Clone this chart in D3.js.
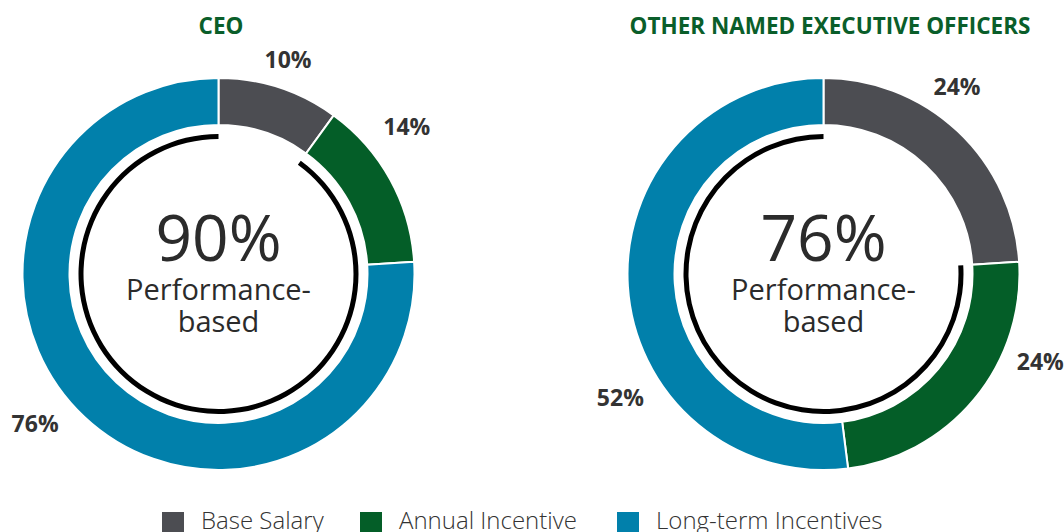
<!DOCTYPE html>
<html>
<head>
<meta charset="utf-8">
<script src="https://cdn.jsdelivr.net/npm/d3@7"></script>
<style>
  body { margin: 0; background: #fff; }
  text { font-family: "Open Sans", sans-serif; }
</style>
</head>
<body>
<svg id="chart" width="1064" height="532"></svg>
<script>
    // data
    var categories = ["Base Salary", "Annual Incentive", "Long-term Incentives"];
    var ceoValues = [10, 14, 76];
    var neoValues = [24, 24, 52];
    var titles = ["CEO", "OTHER NAMED EXECUTIVE OFFICERS"];
    var performanceBased = [90, 76];
    var centerWords = ["Performance-", "based"];

    var colors = d3.scaleOrdinal().domain(categories).range(["#4c4d52", "#045e28", "#0180ab"]);

    var svg = d3.select("#chart");

    // layout of each donut (label angle in degrees, radius for the label)
    var charts = [
        {values: ceoValues, title: titles[0], perf: performanceBased[0], cx: 218.5, cy: 274, tx: 221,
         labels: [[18, 225], [52, 239], [230.7, 237]]},
        {values: neoValues, title: titles[1], perf: performanceBased[1], cx: 823.5, cy: 274, tx: 830,
         labels: [[35.5, 230], [112.1, 234], [238.6, 238]]}
    ];

    var pie = d3.pie().sort(null).value(function (d) { return d.value; });
    var arc = d3.arc().innerRadius(149).outerRadius(196);
    var perfArc = d3.arc().innerRadius(135).outerRadius(140);

    charts.forEach(function (c) {
        var data = c.values.map(function (v, i) { return {key: categories[i], value: v}; });
        var arcs = pie(data);

        var g = svg.append("g").attr("transform", "translate(" + c.cx + "," + c.cy + ")");

        g.selectAll(".slice")
            .data(arcs)
            .enter()
            .append("path")
            .attr("class", "slice")
            .attr("d", arc)
            .attr("fill", function (d) { return colors(d.data.key); })
            .attr("stroke", "#fff")
            .attr("stroke-width", 2);

        // black ring = performance-based part (everything but base salary)
        var scale = d3.scaleLinear().domain([0, 100]).range([0, 2 * Math.PI]);
        g.append("path")
            .attr("d", perfArc({startAngle: scale(100 - c.perf), endAngle: scale(100)}))
            .attr("fill", "#000");

        g.selectAll(".pct")
            .data(arcs)
            .enter()
            .append("text")
            .attr("class", "pct")
            .attr("x", function (d, i) { return c.labels[i][1] * Math.sin(c.labels[i][0] * Math.PI / 180); })
            .attr("y", function (d, i) { return -c.labels[i][1] * Math.cos(c.labels[i][0] * Math.PI / 180); })
            .attr("dy", "0.35em")
            .attr("text-anchor", "middle")
            .attr("font-size", 23)
            .attr("font-weight", 700)
            .attr("fill", "#333")
            .text(function (d) { return d.data.value + "%"; });

        g.append("text")
            .attr("y", -13)
            .attr("text-anchor", "middle")
            .attr("font-size", 64)
            .attr("font-weight", 400)
            .attr("fill", "#2b2b2b")
            .text(c.perf + "%");

        g.selectAll(".word")
            .data(centerWords)
            .enter()
            .append("text")
            .attr("class", "word")
            .attr("y", function (d, i) { return 26 + i * 32; })
            .attr("text-anchor", "middle")
            .attr("font-size", 29)
            .attr("font-weight", 400)
            .attr("fill", "#2b2b2b")
            .text(function (d) { return d; });

        svg.append("text")
            .attr("x", c.tx)
            .attr("y", 34)
            .attr("text-anchor", "middle")
            .attr("font-size", 22.5)
            .attr("font-weight", 700)
            .attr("fill", "#0a5e2a")
            .text(c.title);
    });

    // legend
    var legendX = [162, 360, 617];
    var legend = svg.selectAll(".legend")
        .data(categories)
        .enter()
        .append("g")
        .attr("class", "legend")
        .attr("transform", function (d, i) { return "translate(" + legendX[i] + ",512)"; });

    legend.append("rect")
        .attr("width", 22)
        .attr("height", 22)
        .attr("fill", function (d) { return colors(d); });

    legend.append("text")
        .attr("x", 39)
        .attr("y", 17)
        .attr("font-size", 24)
        .attr("font-weight", 300)
        .attr("fill", "#333")
        .text(function (d) { return d; });
</script>
</body>
</html>
